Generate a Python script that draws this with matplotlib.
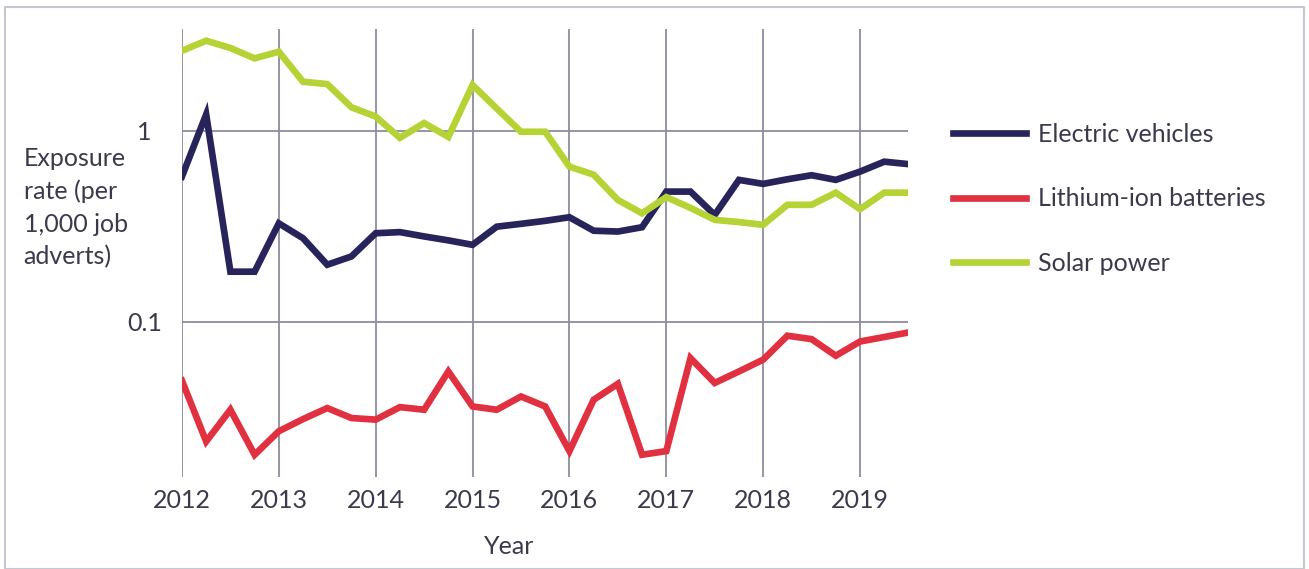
import numpy as np
import matplotlib
matplotlib.use("Agg")
import matplotlib.pyplot as plt
from matplotlib.patches import Rectangle

# quarterly points, 2012 Q1 .. 2019 Q3
years = np.arange(2012, 2019.51, 0.25)

electric_vehicles = [0.577, 1.22, 0.183, 0.183, 0.328, 0.274, 0.199, 0.22,
                     0.291, 0.295, 0.28, 0.267, 0.253, 0.315, 0.326, 0.338,
                     0.353, 0.30, 0.297, 0.313, 0.481, 0.481, 0.363, 0.554,
                     0.528, 0.558, 0.586, 0.554, 0.612, 0.69, 0.67]
lithium_ion = [0.0491, 0.0236, 0.0346, 0.0201, 0.0267, 0.0309, 0.0353, 0.0313,
               0.0307, 0.0357, 0.0346, 0.0549, 0.0360, 0.0346, 0.0406, 0.036,
               0.021, 0.039, 0.0473, 0.0201, 0.021, 0.0645, 0.0478, 0.0549,
               0.0633, 0.0845, 0.0811, 0.0664, 0.0788, 0.0832, 0.0879]
solar_power = [2.63, 2.97, 2.72, 2.40, 2.60, 1.81, 1.76, 1.33,
               1.19, 0.92, 1.10, 0.93, 1.74, 1.31, 0.99, 0.99,
               0.65, 0.59, 0.435, 0.37, 0.45, 0.395, 0.342, 0.333,
               0.322, 0.41, 0.41, 0.475, 0.389, 0.475, 0.475]

series = ["Electric vehicles", "Lithium-ion batteries", "Solar power"]
colors = ["#26245a", "#e1303f", "#b5d335"]
year_ticks = list(range(2012, 2020))

txt = "#3a3a4c"
grid = "#8c8ca0"
fs = 18
plt.rcParams["font.family"] = ["Lato", "DejaVu Sans"]

fig = plt.figure(figsize=(13.09, 5.69), dpi=100)
ax = fig.add_axes([0.139, 0.162, 0.555, 0.787])

for name, vals, c in zip(series, [electric_vehicles, lithium_ion, solar_power], colors):
    ax.plot(years, vals, color=c, lw=4.8, label=name, solid_joinstyle="miter")

ax.set_yscale("log")
ax.set_ylim(0.0154, 3.42)
ax.set_xlim(2012, 2019.5)
ax.set_yticks([1, 0.1])
ax.set_yticklabels(["1", "0.1"])
ax.yaxis.set_minor_locator(plt.NullLocator())
ax.set_xticks(year_ticks)
ax.set_xticklabels([str(y) for y in year_ticks])
ax.tick_params(length=0, labelsize=fs, colors=txt)
ax.tick_params(axis="y", pad=27)
ax.tick_params(axis="x", pad=9)
for lab in ax.get_yticklabels():
    lab.set_horizontalalignment("center")
ax.grid(True, color=grid, lw=1.3)
ax.set_axisbelow(True)
for s in ax.spines.values():
    s.set_visible(False)

ax.set_xlabel("Year", fontsize=fs, color=txt, labelpad=16, x=0.45)
fig.text(0.018, 0.742, "Exposure\nrate (per\n1,000 job\nadverts)", fontsize=fs,
         color=txt, ha="left", va="top", linespacing=1.5)

leg = ax.legend(loc="upper left", bbox_to_anchor=(1.03, 0.84), frameon=False,
                fontsize=fs, handlelength=2.95, handletextpad=0.45, labelspacing=1.65)
for t in leg.get_texts():
    t.set_color(txt)

fig.add_artist(Rectangle((0.004, 0.0), 0.992, 0.988, transform=fig.transFigure,
                         fill=False, edgecolor="#c5c8d0", lw=1.5))

fig.savefig("out.png", dpi=100)
